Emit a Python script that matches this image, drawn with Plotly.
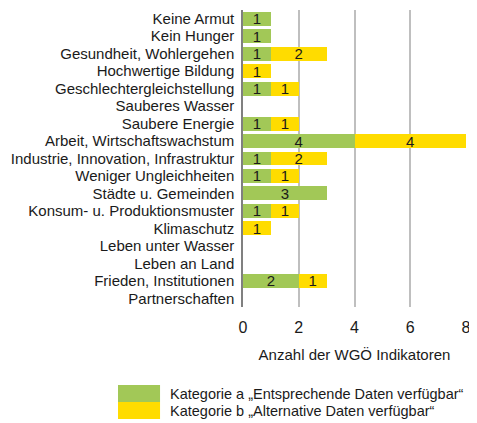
import plotly.graph_objects as go

categories = ["Keine Armut", "Kein Hunger", "Gesundheit, Wohlergehen", "Hochwertige Bildung",
              "Geschlechtergleichstellung", "Sauberes Wasser", "Saubere Energie",
              "Arbeit, Wirtschaftswachstum", "Industrie, Innovation, Infrastruktur",
              "Weniger Ungleichheiten", "Städte u. Gemeinden", "Konsum- u. Produktionsmuster",
              "Klimaschutz", "Leben unter Wasser", "Leben an Land", "Frieden, Institutionen",
              "Partnerschaften"]
kat_a = [1, 1, 1, 0, 1, 0, 1, 4, 1, 1, 3, 1, 0, 0, 0, 2, 0]
kat_b = [0, 0, 2, 1, 1, 0, 1, 4, 2, 1, 0, 1, 1, 0, 0, 1, 0]
x_ticks = [0, 2, 4, 6, 8]
name_a = "Kategorie a „Entsprechende Daten verfügbar“"
name_b = "Kategorie b „Alternative Daten verfügbar“"

GREEN = "#A2C857"
YELLOW = "#FFDC00"
FONT = "Liberation Sans, Arial"

fig = go.Figure()
for vals, name, col in [(kat_a, name_a, GREEN), (kat_b, name_b, YELLOW)]:
    fig.add_trace(go.Bar(
        y=categories, x=vals, orientation="h", name=name,
        marker=dict(color=col, line=dict(width=0)),
        text=[str(v) if v else "" for v in vals],
        textposition="inside", insidetextanchor="middle", textangle=0,
        constraintext="none",
        textfont=dict(color="#1a1a1a", size=15, family=FONT),
        showlegend=False,
    ))

# page body adds an 8px offset, so the figure is 8px smaller than the window
fig.update_layout(
    barmode="stack", bargap=0.2,
    width=469, height=415,
    margin=dict(l=235, r=11, t=2, b=116),
    paper_bgcolor="white", plot_bgcolor="white",
    font=dict(family=FONT, size=15, color="#1a1a1a"),
    uniformtext=dict(minsize=10, mode="show"),
    xaxis=dict(range=[0, 8.0], tickvals=x_ticks, showgrid=True, gridcolor="#BFBFBF",
               gridwidth=1.5, zeroline=False, showline=False, ticks="",
               tickfont=dict(size=16), ticklabelstandoff=9,
               title=dict(text="Anzahl der WGÖ Indikatoren",
               font=dict(size=15), standoff=14)),
    yaxis=dict(categoryorder="array", categoryarray=categories[::-1], showgrid=False,
               tickmode="array", tickvals=categories,
               showline=True, linecolor="#808080", linewidth=1.5, ticks="",
               tickfont=dict(size=15), ticklabelstandoff=4),
)

# custom legend
legend_items = [(name_a, GREEN, -0.2626, -0.3199), (name_b, YELLOW, -0.3199, -0.3771)]
for nm, col, ytop, ybot in legend_items:
    fig.add_shape(type="rect", xref="paper", yref="paper",
                  x0=-0.5605, x1=-0.372, y0=ybot, y1=ytop,
                  fillcolor=col, line=dict(width=0))
    fig.add_annotation(xref="paper", yref="paper", x=-0.338, y=(ytop + ybot) / 2,
                       text=nm, showarrow=False, xanchor="left", yanchor="middle",
                       font=dict(size=14.5, family=FONT, color="#1a1a1a"))

fig.write_html("out.html")
